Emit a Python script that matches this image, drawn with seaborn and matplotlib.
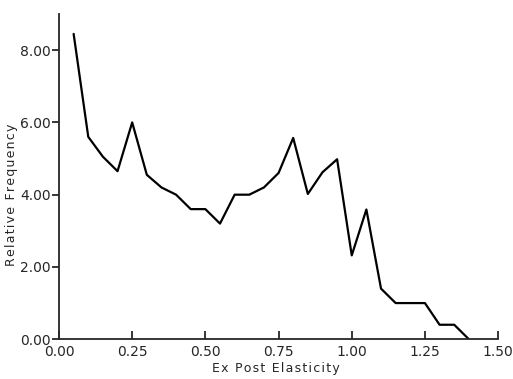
import pandas as pd
import matplotlib
matplotlib.use("Agg")
import matplotlib.pyplot as plt
import seaborn as sns

# values
elasticity = [0.05, 0.10, 0.15, 0.20, 0.25, 0.30, 0.35, 0.40, 0.45, 0.50,
              0.55, 0.60, 0.65, 0.70, 0.75, 0.80, 0.85, 0.90, 0.95, 1.00,
              1.05, 1.10, 1.15, 1.20, 1.25, 1.30, 1.35, 1.40]
frequency = [8.45, 5.6, 5.05, 4.65, 6.0, 4.55, 4.2, 4.0, 3.6, 3.6,
             3.2, 4.0, 4.0, 4.2, 4.6, 5.57, 4.02, 4.62, 4.98, 2.32,
             3.59, 1.4, 1.0, 1.0, 1.0, 0.4, 0.4, 0.0]
x_ticks = [0.0, 0.25, 0.5, 0.75, 1.0, 1.25, 1.5]
y_ticks = [0.0, 2.0, 4.0, 6.0, 8.0]
x_label = "Ex Post Elasticity"
y_label = "Relative Frequency"

df = pd.DataFrame({x_label: elasticity, y_label: frequency})

sns.set_style("ticks")
plt.rcParams['font.family'] = ['DejaVu Sans']


def spaced(s):
    # the scanned labels are letter-spaced
    return "\u200a".join(s)


fig = plt.figure(figsize=(5.13, 3.79), dpi=100)
ax = fig.add_axes([0.115, 0.105, 0.856, 0.858])
sns.lineplot(data=df, x=x_label, y=y_label, color="black", linewidth=1.6, ax=ax)

ax.set_xlim(0, 1.5)
ax.set_ylim(0, 9)
ax.set_xticks(x_ticks)
ax.set_xticklabels([f"{v:.2f}" for v in x_ticks])
ax.set_yticks(y_ticks)
ax.set_yticklabels([f"{v:.2f}" for v in y_ticks])
ax.tick_params(axis="x", direction="in", length=6, width=1.3, labelsize=10, pad=4)
ax.tick_params(axis="y", direction="out", length=5, width=1.3, labelsize=10, pad=1)
for s in ["left", "bottom"]:
    ax.spines[s].set_linewidth(1.3)
sns.despine(ax=ax)
ax.set_xlabel(spaced(x_label), fontsize=9)
ax.set_ylabel(spaced(y_label), fontsize=9)
ax.xaxis.set_label_coords(0.495, -0.07)
ax.yaxis.set_label_coords(-0.093, 0.443)

fig.savefig("out.png", dpi=100)
